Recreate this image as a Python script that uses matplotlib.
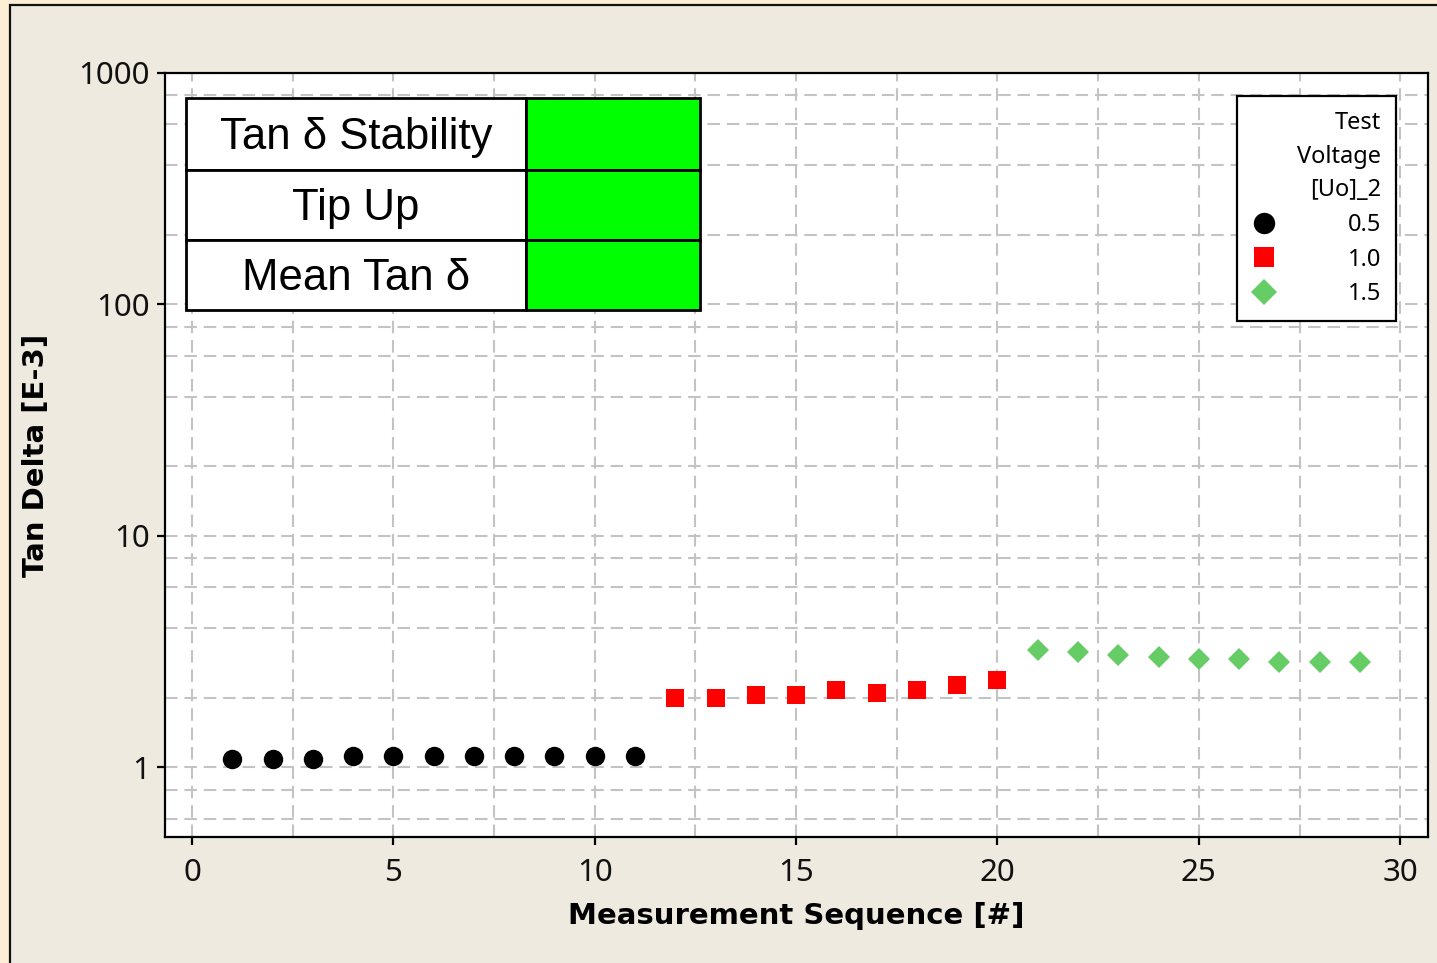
import matplotlib
matplotlib.use("Agg")
import matplotlib.pyplot as plt
from matplotlib.patches import Rectangle
from matplotlib.ticker import LogLocator, MultipleLocator, FuncFormatter, NullFormatter

# ---- data ----
seq_05 = [1, 2, 3, 4, 5, 6, 7, 8, 9, 10, 11]
tan_05 = [1.09, 1.09, 1.09, 1.12, 1.12, 1.12, 1.12, 1.12, 1.12, 1.12, 1.12]
seq_10 = [12, 13, 14, 15, 16, 17, 18, 19, 20]
tan_10 = [2.0, 2.0, 2.05, 2.05, 2.15, 2.1, 2.15, 2.26, 2.38]
seq_15 = [21, 22, 23, 24, 25, 26, 27, 28, 29]
tan_15 = [3.2, 3.14, 3.05, 2.99, 2.93, 2.93, 2.84, 2.84, 2.84]
legend_labels = ["0.5", "1.0", "1.5"]
legend_title = "Test\nVoltage\n[Uo]_2"
table_rows = ["Tan δ Stability", "Tip Up", "Mean Tan δ"]
x_ticks = [0, 5, 10, 15, 20, 25, 30]
y_ticks = [1, 10, 100, 1000]

W, H = 1437, 963
fig = plt.figure(figsize=(W / 100, H / 100), dpi=100)
fig.patch.set_facecolor("#fcefd6")
bg = fig.add_axes([0, 0, 1, 1], zorder=-10)
bg.set_axis_off()
bg.set_xlim(0, 1)
bg.set_ylim(0, 1)
bg.add_patch(Rectangle((10 / W, -0.01), 1.02, 1 - 5 / H + 0.01, transform=bg.transAxes,
                       facecolor="#efeadf", edgecolor="#111111", linewidth=1.6, clip_on=False))

ax = fig.add_axes([165 / W, 1 - 837 / H, (1428 - 165) / W, (837 - 73) / H])
ax.set_facecolor("white")
ax.set_yscale("log")
ax.set_ylim(0.5, 1000)
ax.set_xlim(-0.67, 30.69)

ax.xaxis.set_major_locator(MultipleLocator(5))
ax.xaxis.set_minor_locator(MultipleLocator(2.5))
ax.yaxis.set_major_locator(LogLocator(base=10, numticks=10))
ax.yaxis.set_minor_locator(LogLocator(base=10, subs=[2, 4, 6, 8], numticks=10))
ax.yaxis.set_major_formatter(FuncFormatter(lambda v, p: f"{v:g}"))
ax.yaxis.set_minor_formatter(NullFormatter())
ax.set_xticks(x_ticks)
ax.set_yticks(y_ticks)

grid_kw = dict(color="#c3c3c3", linestyle=(0, (6, 3.3)), linewidth=1.5)
ax.grid(True, which="both", axis="both", **grid_kw)
ax.set_axisbelow(True)

for s in ax.spines.values():
    s.set_linewidth(1.6)
    s.set_color("black")
ax.tick_params(which="major", direction="out", length=6, width=1.6, color="black",
               labelsize=22.5, pad=5)
ax.tick_params(axis="x", pad=9)
ax.tick_params(which="minor", length=0)
for lab in ax.get_xticklabels() + ax.get_yticklabels():
    lab.set_fontfamily("Noto Sans")
    lab.set_color("#111111")

ax.plot(seq_05, tan_05, linestyle="none", marker="o", markersize=14, color="black",
        markeredgewidth=0, label=legend_labels[0], zorder=3)
ax.plot(seq_10, tan_10, linestyle="none", marker="s", markersize=12.5, color="#ff0000",
        markeredgewidth=0, label=legend_labels[1], zorder=3)
ax.plot(seq_15, tan_15, linestyle="none", marker="D", markersize=11.7, color="#66cc66",
        markeredgewidth=0, label=legend_labels[2], zorder=3)

ax.set_xlabel("Measurement Sequence [#]", fontsize=21, fontweight="bold",
              fontfamily="DejaVu Sans", labelpad=10)
ax.set_ylabel("Tan Delta [E-3]", fontsize=21, fontweight="bold",
              fontfamily="DejaVu Sans", labelpad=20)

# status table
aw, ah = 1428 - 165, 837 - 73
def axx(px):
    return (px - 165) / aw
def axy(py):
    return (837 - py) / ah
row_edges = [98, 170, 240, 310]
for i, txt in enumerate(table_rows):
    y0, y1 = axy(row_edges[i + 1]), axy(row_edges[i])
    ax.add_patch(Rectangle((axx(186), y0), axx(526) - axx(186), y1 - y0, transform=ax.transAxes,
                           facecolor="white", edgecolor="black", linewidth=2, zorder=5))
    ax.add_patch(Rectangle((axx(526), y0), axx(700) - axx(526), y1 - y0, transform=ax.transAxes,
                           facecolor="#00ff00", edgecolor="black", linewidth=2, zorder=5))
    ax.text((axx(186) + axx(526)) / 2, (y0 + y1) / 2 - 0.005, txt, transform=ax.transAxes,
            ha="center", va="center", fontsize=31.5, fontfamily="Liberation Sans", zorder=6)

leg = ax.legend(title=legend_title, loc="upper right",
                bbox_to_anchor=(axx(1396), axy(96)), borderaxespad=0,
                fancybox=False, framealpha=1, edgecolor="black",
                prop={"family": "Noto Sans", "size": 17},
                title_fontproperties={"family": "Noto Sans", "size": 17},
                handletextpad=3.07, handlelength=1.0, labelspacing=0.45,
                borderpad=0.62, markerscale=1.1)
leg._legend_box.align = "right"
leg.get_frame().set_linewidth(1.6)
leg.get_title().set_multialignment("right")
leg.get_title().set_linespacing(1.55)
leg.set_zorder(7)

fig.savefig("out.png", dpi=100, facecolor=fig.get_facecolor())
